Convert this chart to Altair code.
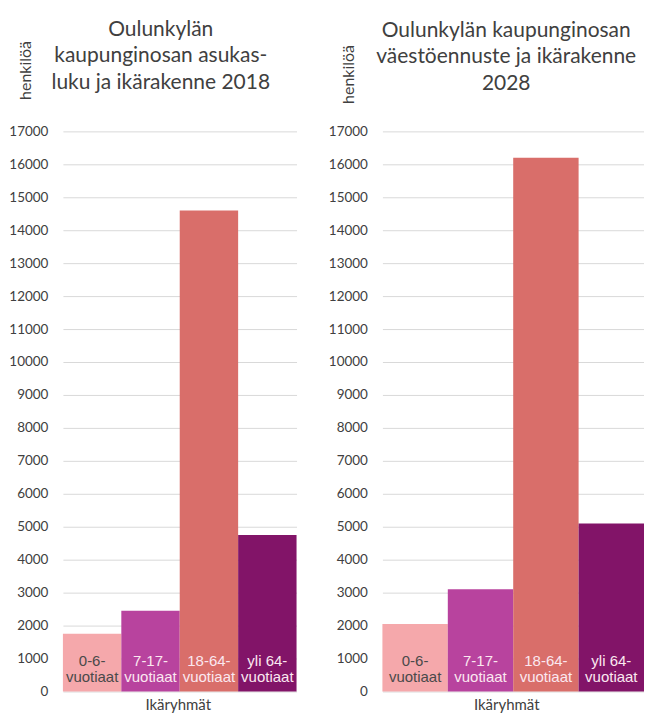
import altair as alt
import pandas as pd

categories = ["0-6", "7-17", "18-64", "yli 64"]
values_2018 = [1750, 2450, 14600, 4750]
values_2028 = [2050, 3100, 16200, 5100]
title_2018 = ["Oulunkylän", "kaupunginosan asukas-", "luku ja ikärakenne 2018"]
title_2028 = ["Oulunkylän kaupunginosan", "väestöennuste ja ikärakenne", "2028"]
y_ticks = list(range(0, 17001, 1000))
y_title = "henkilöä"
x_title = "Ikäryhmät"
label_suffix = "vuotiaat"

bar_colors = ["#f5a8ab", "#b8439e", "#d96e6a", "#821468"]
TEXT = "#404040"
FONT = "Lato"
LABEL_FONT = "'Liberation Sans Narrow', 'Liberation Sans', Arial, sans-serif"
H = 561


def panel(values, title_lines, width, title_cx, title_y, yt_x, yt_y, xt_x, xt_y):
    df = pd.DataFrame({
        "group": categories,
        "value": values,
        "label": [c + "-\n" + label_suffix for c in categories],
    })
    x = alt.X(
        "group:N", sort=categories,
        scale=alt.Scale(paddingInner=0, paddingOuter=0),
        axis=alt.Axis(labels=False, ticks=False, domain=False, grid=False,
                      title=x_title, titleFont=FONT, titleFontSize=15,
                      titleFontWeight="normal", titleColor=TEXT,
                      titleX=xt_x, titleY=xt_y, titleAlign="center",
                      titleBaseline="middle"),
    )
    y = alt.Y(
        "value:Q",
        scale=alt.Scale(domain=[0, 17000], nice=False),
        axis=alt.Axis(values=y_ticks, format="d", title=None, ticks=False,
                      domain=False, grid=True, gridColor="#d9d9d9",
                      gridWidth=1, labelFont=FONT, labelFontSize=13.5,
                      labelColor=TEXT, labelPadding=15),
    )
    bars = alt.Chart(df).mark_bar().encode(
        x=x, y=y,
        color=alt.Color("group:N", sort=categories,
                        scale=alt.Scale(domain=categories, range=bar_colors),
                        legend=None),
    )
    labels = alt.Chart(df).mark_text(
        lineBreak="\n", baseline="alphabetic", align="center",
        font=LABEL_FONT, fontSize=15, lineHeight=17,
    ).encode(
        x=alt.X("group:N", sort=categories),
        y=alt.value(H - 26),
        text="label:N",
        color=alt.condition("datum.group === '0-6'", alt.value("#4a4a4a"),
                            alt.value("#fbe8f0")),
    )
    title = alt.Chart(pd.DataFrame({"t": ["\n".join(title_lines)]})).mark_text(
        lineBreak="\n", align="center", baseline="alphabetic", font=FONT,
        fontSize=21, lineHeight=27, color=TEXT,
    ).encode(x=alt.value(title_cx), y=alt.value(title_y), text="t:N")
    ytitle = alt.Chart(pd.DataFrame({"t": [y_title]})).mark_text(
        align="center", baseline="middle", angle=270, font=FONT,
        fontSize=16, color=TEXT,
    ).encode(x=alt.value(yt_x), y=alt.value(yt_y), text="t:N")
    return alt.layer(bars, labels, title, ytitle).properties(width=width, height=H)


left = panel(values_2018, title_2018, 234, 98, -96, -37, -61, 115, 13)
right = panel(values_2028, title_2028, 262, 124, -95, -33, -57, 124, 13)

chart = alt.hconcat(left, right, spacing=31).properties(
    padding={"left": 0, "top": 10, "right": 0, "bottom": 0},
    background="white",
).configure_view(stroke=None)

chart.save("out.html", embed_options={"renderer": "svg", "actions": False})
